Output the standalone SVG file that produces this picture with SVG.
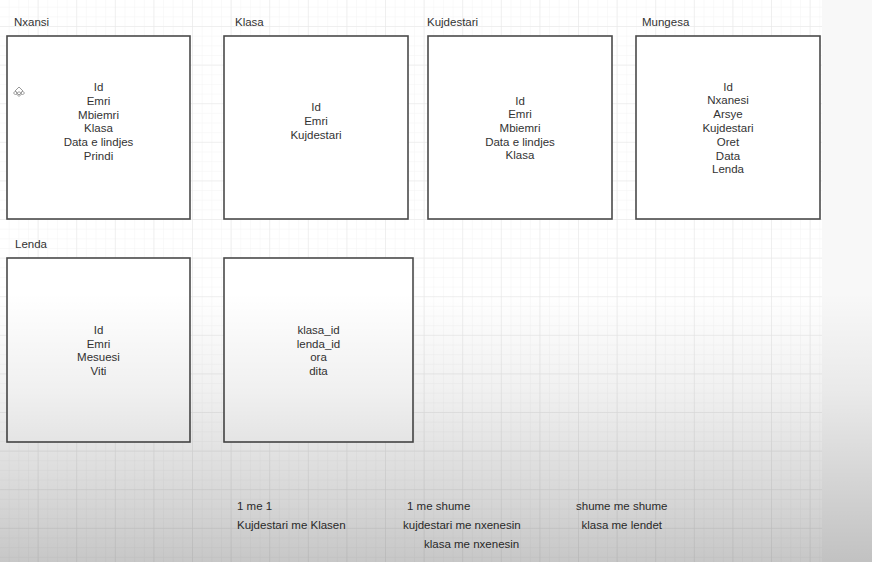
<svg xmlns="http://www.w3.org/2000/svg" width="872" height="562" viewBox="0 0 872 562">
<style>
.box{fill:#ffffff;stroke:#4a4a4a;stroke-width:1.6}
.t{font-family:"Liberation Sans",Arial,sans-serif;font-size:11.5px;fill:#333333}
.c{text-anchor:middle}
</style>
<defs>
<pattern id="minor" x="0" y="27" width="9.65" height="9.65" patternUnits="userSpaceOnUse">
<path d="M9.65 0V9.65H0" fill="none" stroke="#f3f3f3" stroke-width="1"/>
</pattern>
<pattern id="major" x="0" y="27" width="38.6" height="38.6" patternUnits="userSpaceOnUse">
<path d="M38.6 0V38.6H0" fill="none" stroke="#e6e6e6" stroke-width="1"/>
</pattern>
<linearGradient id="shade" x1="0" y1="0" x2="0" y2="1">
<stop offset="0" stop-color="#000" stop-opacity="0"/>
<stop offset="0.52" stop-color="#000" stop-opacity="0"/>
<stop offset="0.7" stop-color="#000" stop-opacity="0.06"/>
<stop offset="1" stop-color="#000" stop-opacity="0.22"/>
</linearGradient>
</defs>
<rect width="872" height="562" fill="#ffffff"/>
<rect width="822" height="562" fill="url(#minor)"/>
<rect width="822" height="562" fill="url(#major)"/>
<rect x="822" width="50" height="562" fill="#f8f8f8"/>

<g id="connectors"></g>

<g id="nxansi">
<text class="t" x="14" y="26">Nxansi</text>
<rect class="box" x="7" y="36" width="183" height="183"/>
<text class="t c" x="98.5" y="91">Id</text>
<text class="t c" x="98.5" y="104.8">Emri</text>
<text class="t c" x="98.5" y="118.6">Mbiemri</text>
<text class="t c" x="98.5" y="132.4">Klasa</text>
<text class="t c" x="98.5" y="146.2">Data e lindjes</text>
<text class="t c" x="98.5" y="160">Prindi</text>
<g fill="none" stroke="#999" stroke-width="1">
<path d="M19 87l4 4-4 4-4-4z M19 91.5l-2.5 2.5 2.5 2.5 2.5-2.5z M15.5 91l-2 2 2 2 2-2z M22.5 91l-2 2 2 2 2-2z"/>
</g>
</g>

<g id="klasa">
<text class="t" x="235" y="26">Klasa</text>
<rect class="box" x="224" y="36" width="184" height="183"/>
<text class="t c" x="316" y="111">Id</text>
<text class="t c" x="316" y="124.8">Emri</text>
<text class="t c" x="316" y="138.6">Kujdestari</text>
</g>

<g id="kujdestari">
<text class="t" x="427" y="26">Kujdestari</text>
<rect class="box" x="428" y="36" width="184" height="183"/>
<text class="t c" x="520" y="104.5">Id</text>
<text class="t c" x="520" y="118.2">Emri</text>
<text class="t c" x="520" y="131.9">Mbiemri</text>
<text class="t c" x="520" y="145.6">Data e lindjes</text>
<text class="t c" x="520" y="159.3">Klasa</text>
</g>

<g id="mungesa">
<text class="t" x="642" y="26">Mungesa</text>
<rect class="box" x="636" y="36" width="184" height="183"/>
<text class="t c" x="728" y="90.5">Id</text>
<text class="t c" x="728" y="104.3">Nxanesi</text>
<text class="t c" x="728" y="118.1">Arsye</text>
<text class="t c" x="728" y="131.9">Kujdestari</text>
<text class="t c" x="728" y="145.7">Oret</text>
<text class="t c" x="728" y="159.5">Data</text>
<text class="t c" x="728" y="173.3">Lenda</text>
</g>

<g id="lenda">
<text class="t" x="15" y="248">Lenda</text>
<rect class="box" x="7" y="258" width="183" height="184"/>
<text class="t c" x="98.5" y="334">Id</text>
<text class="t c" x="98.5" y="347.7">Emri</text>
<text class="t c" x="98.5" y="361.4">Mesuesi</text>
<text class="t c" x="98.5" y="375.1">Viti</text>
</g>

<g id="orari">
<rect class="box" x="224" y="258" width="189" height="184"/>
<text class="t c" x="318.5" y="334">klasa_id</text>
<text class="t c" x="318.5" y="347.7">lenda_id</text>
<text class="t c" x="318.5" y="361.4">ora</text>
<text class="t c" x="318.5" y="375.1">dita</text>
</g>

<g id="notes">
<text class="t" x="237" y="509.5">1 me 1</text>
<text class="t" x="237" y="528.8">Kujdestari me Klasen</text>
<text class="t" x="407" y="509.5">1 me shume</text>
<text class="t" x="403" y="528.8">kujdestari me nxenesin</text>
<text class="t" x="424" y="547.8">klasa me nxenesin</text>
<text class="t" x="576" y="509.5">shume me shume</text>
<text class="t" x="581.5" y="528.8">klasa me lendet</text>
</g>

<rect width="872" height="562" fill="url(#shade)" pointer-events="none"/>
</svg>
